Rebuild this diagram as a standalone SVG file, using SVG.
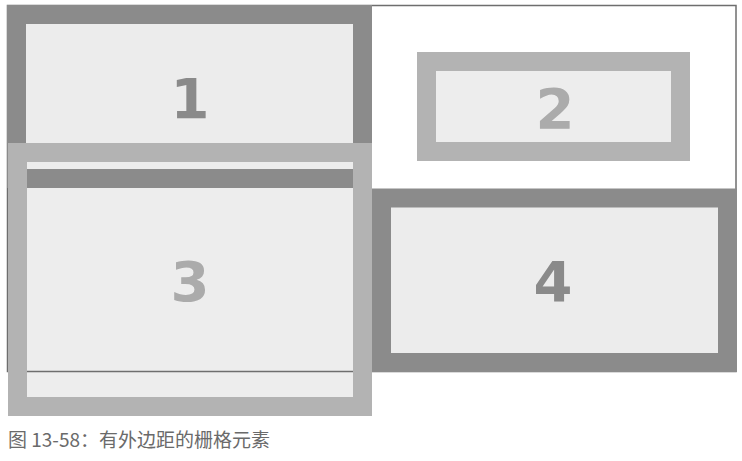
<svg xmlns="http://www.w3.org/2000/svg" width="742" height="461" viewBox="0 0 742 461">
<style>
.dark{fill:#ececec;stroke:#8b8b8b;stroke-width:19}
.light{fill:#ededed;stroke:#b3b3b3;stroke-width:19}
.num{font-family:"DejaVu Sans",sans-serif;font-weight:bold;font-size:56px;text-anchor:middle}
.nd{fill:#8a8a8a}
.nl{fill:#ababab}
.cap{font-family:"Noto Sans CJK SC","Liberation Sans",sans-serif;font-size:19px;fill:#6a6a6a}
</style>
<rect width="742" height="461" fill="#ffffff"/>
<g id="box3-area"><rect x="27" y="162" width="326" height="236" fill="#ededed"/></g>
<g id="container"><rect x="7.5" y="5.5" width="728.5" height="366" fill="none" stroke="#6e6e6e" stroke-width="1.5"/></g>
<g id="box1"><rect class="dark" x="16.5" y="14.5" width="346" height="164"/><text class="num nd" x="190" y="118">1</text></g>
<g id="box2"><rect class="light" x="426.5" y="61.5" width="254" height="90"/><text class="num nl" x="555" y="128">2</text></g>
<g id="box4"><rect class="dark" x="381.5" y="198" width="346" height="164.5"/><text class="num nd" x="553" y="301">4</text></g>
<g id="box3"><rect x="17.5" y="152.5" width="345" height="254" fill="none" stroke="#b3b3b3" stroke-width="19"/><text class="num nl" x="190" y="301">3</text></g>
<g id="caption"><text class="cap" x="8" y="447">图 13-58：有外边距的栅格元素</text></g>
</svg>
